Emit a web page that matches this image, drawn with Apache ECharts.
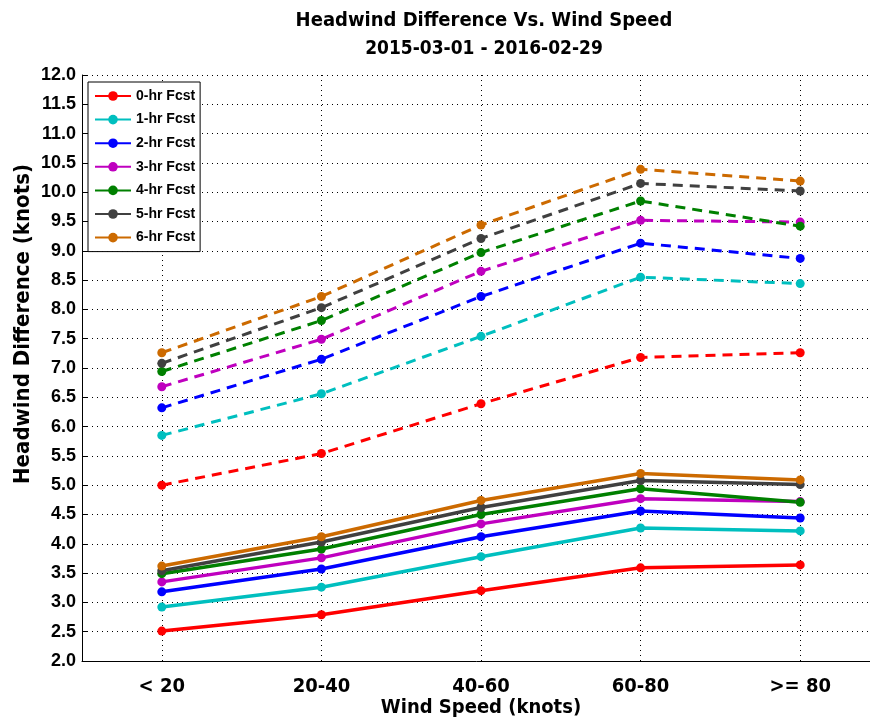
<!DOCTYPE html>
<html>
<head>
<meta charset="utf-8">
<script src="https://cdn.jsdelivr.net/npm/echarts@6/dist/echarts.min.js"></script>
<style>
  html, body { margin: 0; padding: 0; background: #fff; }
  #chart { width: 870px; height: 719px; }
</style>
</head>
<body>
<div id="chart"></div>
<script>
// wind speed bins
var categories = ['< 20', '20-40', '40-60', '60-80', '>= 80'];
var leadNames = ['0-hr Fcst', '1-hr Fcst', '2-hr Fcst', '3-hr Fcst', '4-hr Fcst', '5-hr Fcst', '6-hr Fcst'];
var leadColors = ['#ff0000', '#00bfbf', '#0000ff', '#bf00bf', '#008000', '#404040', '#cc6a00'];

// solid lines (lower group)
var solid0 = [2.51, 2.79, 3.20, 3.59, 3.64];
var solid1 = [2.92, 3.26, 3.78, 4.27, 4.22];
var solid2 = [3.18, 3.57, 4.12, 4.56, 4.44];
var solid3 = [3.35, 3.76, 4.34, 4.77, 4.72];
var solid4 = [3.49, 3.91, 4.50, 4.94, 4.71];
var solid5 = [3.54, 4.03, 4.62, 5.08, 5.01];
var solid6 = [3.62, 4.12, 4.74, 5.20, 5.09];

// dashed lines (upper group)
var dashed0 = [5.00, 5.54, 6.39, 7.18, 7.26];
var dashed1 = [5.85, 6.56, 7.54, 8.55, 8.44];
var dashed2 = [6.32, 7.15, 8.22, 9.13, 8.87];
var dashed3 = [6.68, 7.49, 8.65, 9.52, 9.49];
var dashed4 = [6.94, 7.81, 8.97, 9.85, 9.42];
var dashed5 = [7.08, 8.03, 9.21, 10.15, 10.02];
var dashed6 = [7.26, 8.22, 9.44, 10.39, 10.19];

var solidSets = [solid0, solid1, solid2, solid3, solid4, solid5, solid6];
var dashedSets = [dashed0, dashed1, dashed2, dashed3, dashed4, dashed5, dashed6];

var narrow = '"Liberation Sans Narrow", "DejaVu Sans Condensed", "DejaVu Sans", sans-serif';
var wide = '"Liberation Sans", Arial, sans-serif';

var seriesList = [];
solidSets.forEach(function (d, i) {
    seriesList.push({
        name: leadNames[i],
        type: 'line',
        data: d,
        symbol: 'circle',
        symbolSize: 9,
        lineStyle: { width: 3.5, color: leadColors[i], type: 'solid' },
        itemStyle: { color: leadColors[i] }
    });
});
dashedSets.forEach(function (d, i) {
    seriesList.push({
        name: leadNames[i],
        type: 'line',
        data: d,
        symbol: 'circle',
        symbolSize: 9,
        lineStyle: { width: 3, color: leadColors[i], type: [10, 7] },
        itemStyle: { color: leadColors[i] }
    });
});

var myChart = echarts.init(document.getElementById('chart'));
var option = {
    backgroundColor: '#fff',
    animation: false,
    color: leadColors,
    title: {
        text: 'Headwind Difference Vs. Wind Speed',
        subtext: '2015-03-01 - 2016-02-29',
        left: 479,
        top: 6,
        textAlign: 'center',
        itemGap: 9,
        textStyle: { fontFamily: narrow, fontWeight: 'bold', fontSize: 20, color: '#000' },
        subtextStyle: { fontFamily: narrow, fontWeight: 'bold', fontSize: 19, color: '#000' }
    },
    legend: {
        orient: 'vertical',
        left: 88,
        top: 82,
        data: leadNames,
        itemWidth: 36,
        itemHeight: 12,
        itemGap: 9.6,
        padding: [7, 5, 7, 6],
        backgroundColor: '#fff',
        borderColor: '#000',
        borderWidth: 1,
        borderRadius: 0,
        textStyle: { fontFamily: wide, fontWeight: 'bold', fontSize: 14, color: '#000' }
    },
    grid: {
        left: 82,
        top: 75,
        width: 798,
        height: 586,
        containLabel: false,
        outerBoundsMode: 'none'
    },
    xAxis: {
        type: 'category',
        data: categories,
        boundaryGap: true,
        name: 'Wind Speed (knots)',
        nameLocation: 'middle',
        nameGap: 37,
        nameMoveOverlap: false,
        nameTextStyle: { fontFamily: narrow, fontWeight: 'bold', fontSize: 20, color: '#000' },
        axisLine: { lineStyle: { color: '#000', width: 1 } },
        axisTick: { alignWithLabel: true, inside: true, length: 6, lineStyle: { color: '#000' } },
        axisLabel: { margin: 16, fontFamily: narrow, fontWeight: 'bold', fontSize: 20, color: '#000' },
        splitLine: { show: true, alignWithLabel: true, lineStyle: { color: '#000', width: 1, type: [1, 4] } }
    },
    yAxis: {
        type: 'value',
        min: 2,
        max: 12,
        interval: 0.5,
        name: 'Headwind Difference (knots)',
        nameLocation: 'middle',
        nameGap: 48,
        nameMoveOverlap: false,
        nameTextStyle: {
            fontFamily: narrow, fontWeight: 'bold', fontSize: 22, color: '#000',
            padding: [0, 0, 0, 88]
        },
        axisLine: { show: true, lineStyle: { color: '#000', width: 1 } },
        axisTick: { show: true, inside: true, length: 6, lineStyle: { color: '#000' } },
        axisLabel: {
            margin: 6,
            fontFamily: wide,
            fontWeight: 'bold',
            fontSize: 18,
            color: '#000',
            formatter: function (v) { return v.toFixed(1); }
        },
        splitLine: { show: true, lineStyle: { color: '#000', width: 1, type: [1, 4] } }
    },
    series: seriesList
};
myChart.setOption(option);
</script>
</body>
</html>
